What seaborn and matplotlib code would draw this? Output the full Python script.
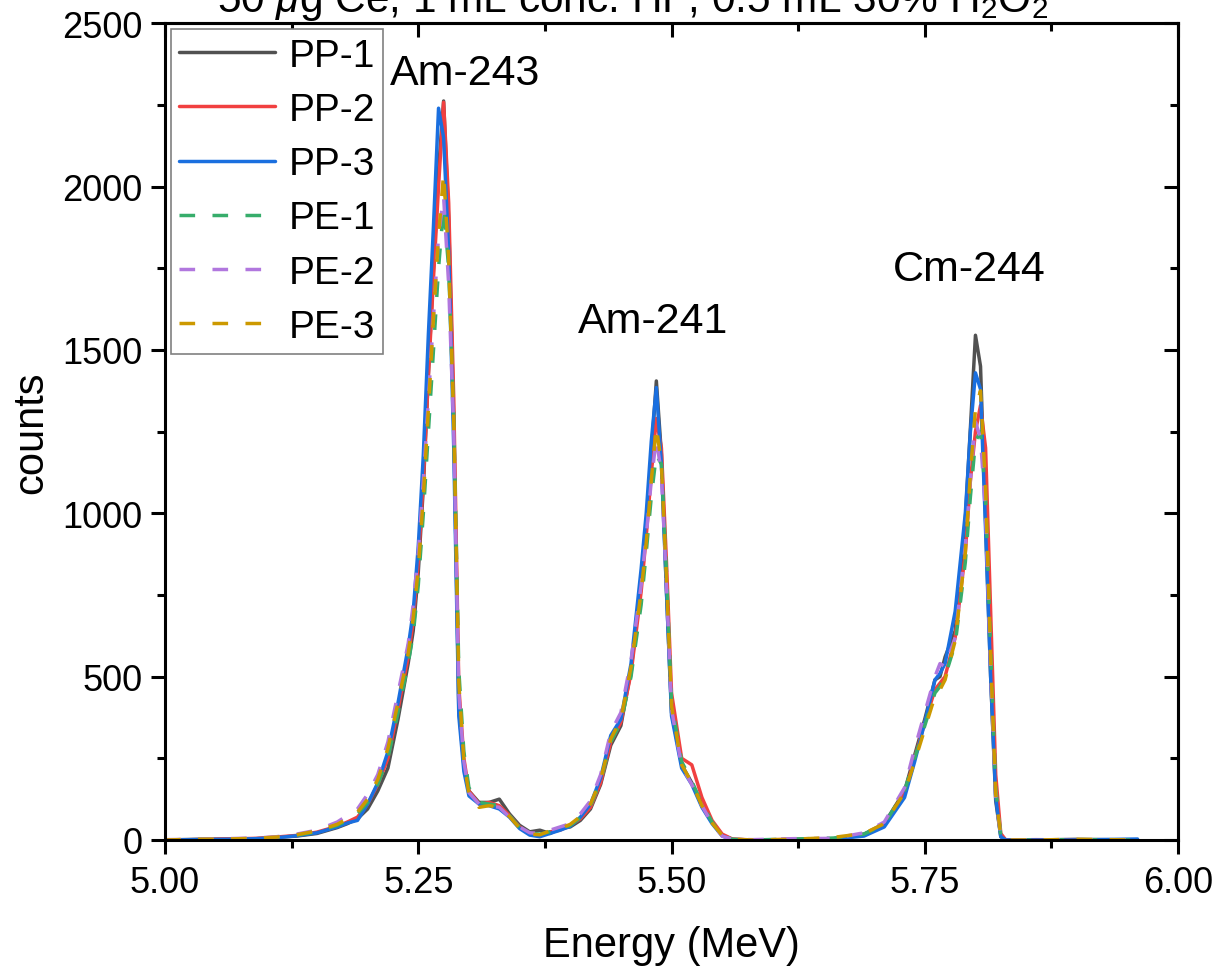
import pandas as pd
import seaborn as sns
import matplotlib.pyplot as plt
from matplotlib.ticker import MultipleLocator

# energy grid (MeV) shared by all spectra
energy = [5.00, 5.03, 5.06, 5.09, 5.11, 5.13, 5.15, 5.17, 5.18, 5.19,
          5.20, 5.21, 5.22, 5.23, 5.24, 5.245, 5.25, 5.255, 5.26, 5.265,
          5.27, 5.275, 5.28, 5.285, 5.29, 5.295, 5.30, 5.31, 5.32, 5.33,
          5.34, 5.35, 5.36, 5.37, 5.38, 5.39, 5.40, 5.41, 5.42, 5.43,
          5.44, 5.45, 5.46, 5.47, 5.475, 5.48, 5.485, 5.49, 5.495, 5.50,
          5.51, 5.52, 5.53, 5.54, 5.55, 5.56, 5.58, 5.62, 5.66, 5.69,
          5.71, 5.73, 5.74, 5.75, 5.76, 5.765, 5.77, 5.78, 5.79, 5.795,
          5.80, 5.805, 5.81, 5.815, 5.82, 5.825, 5.83, 5.86, 5.90, 5.96]

pp1 = [0, 2, 3, 4, 8, 12, 20, 38, 50, 65,
       95, 150, 220, 370, 540, 640, 820, 1080, 1430, 1750,
       2050, 2262, 1900, 1280, 400, 230, 150, 115, 115, 125,
       80, 45, 25, 30, 20, 35, 40, 60, 95, 170,
       290, 350, 520, 790, 950, 1180, 1405, 1180, 760, 390,
       230, 175, 110, 55, 15, 2, 0, 1, 4, 18,
       50, 150, 260, 370, 490, 500, 560, 640, 980, 1260,
       1545, 1450, 980, 500, 120, 10, 0, 0, 2, 0]

pp2 = [0, 1, 3, 5, 9, 14, 24, 42, 55, 70,
       110, 170, 250, 400, 560, 670, 850, 1100, 1420, 1720,
       2000, 2258, 1950, 1350, 470, 250, 150, 110, 115, 105,
       75, 40, 18, 15, 25, 30, 45, 65, 100, 175,
       300, 360, 510, 760, 930, 1120, 1290, 1200, 850, 450,
       250, 230, 130, 60, 18, 3, 0, 2, 3, 15,
       45, 140, 250, 360, 460, 480, 500, 620, 880, 1100,
       1250, 1330, 1200, 700, 200, 20, 0, 1, 0, 0]

pp3 = [0, 1, 2, 4, 7, 13, 22, 40, 52, 60,
       110, 175, 270, 420, 590, 700, 900, 1180, 1550, 1880,
       2240, 2150, 1800, 1200, 380, 210, 135, 110, 105, 95,
       70, 35, 15, 10, 20, 30, 42, 70, 110, 190,
       320, 370, 540, 830, 1000, 1220, 1385, 1150, 760, 380,
       220, 170, 100, 50, 12, 1, 0, 0, 3, 12,
       40, 130, 240, 360, 490, 510, 540, 700, 1000, 1250,
       1430, 1380, 950, 500, 130, 10, 0, 0, 0, 3]

pe1 = [0, 2, 2, 5, 8, 15, 25, 45, 60, 80,
       115, 170, 250, 390, 540, 630, 780, 1000, 1250, 1500,
       1750, 1940, 1750, 1300, 520, 270, 160, 115, 110, 105,
       75, 38, 20, 18, 25, 32, 45, 68, 105, 180,
       300, 360, 500, 720, 880, 1050, 1180, 1150, 820, 420,
       240, 180, 110, 55, 15, 2, 0, 3, 6, 18,
       48, 150, 250, 350, 450, 470, 500, 600, 850, 1050,
       1220, 1250, 1050, 580, 160, 15, 0, 0, 1, 0]

pe2 = [1, 2, 4, 6, 10, 18, 30, 55, 75, 95,
       140, 200, 300, 450, 600, 720, 880, 1100, 1350, 1600,
       1850, 1970, 1700, 1250, 450, 240, 145, 110, 105, 100,
       70, 40, 22, 20, 30, 40, 50, 80, 120, 200,
       330, 390, 550, 780, 930, 1100, 1230, 1120, 780, 400,
       225, 170, 105, 50, 12, 2, 1, 4, 5, 22,
       55, 160, 280, 390, 500, 540, 530, 620, 900, 1100,
       1280, 1230, 1000, 520, 130, 12, 0, 0, 0, 0]

pe3 = [0, 2, 3, 5, 9, 16, 28, 48, 65, 85,
       125, 185, 280, 420, 570, 680, 830, 1050, 1320, 1600,
       1850, 2040, 1780, 1280, 480, 240, 140, 100, 105, 100,
       72, 36, 18, 16, 28, 35, 48, 72, 110, 185,
       310, 370, 530, 760, 910, 1100, 1265, 1150, 800, 410,
       230, 175, 105, 52, 14, 2, 0, 2, 8, 20,
       50, 145, 240, 340, 440, 460, 490, 610, 880, 1120,
       1320, 1375, 1080, 560, 140, 12, 0, 0, 2, 0]

samples = ["PP-1", "PP-2", "PP-3", "PE-1", "PE-2", "PE-3"]
series = [pp1, pp2, pp3, pe1, pe2, pe3]
colors = ["#515151", "#F14040", "#1A6FDF", "#37AD6B", "#B177DE", "#CC9900"]

df = pd.concat(
    [pd.DataFrame({"energy": energy, "counts": s, "sample": name})
     for name, s in zip(samples, series)],
    ignore_index=True)

sns.set_style("ticks")
plt.rcParams["font.family"] = ["Liberation Sans", "DejaVu Sans"]
plt.rcParams["mathtext.fontset"] = "custom"
plt.rcParams["mathtext.rm"] = "Liberation Sans"
plt.rcParams["mathtext.it"] = "Liberation Sans:italic"
plt.rcParams["text.color"] = "black"
plt.rcParams["axes.labelcolor"] = "black"
plt.rcParams["xtick.color"] = "black"
plt.rcParams["ytick.color"] = "black"

fig = plt.figure(figsize=(12.17, 9.70), dpi=100)
ax = fig.add_axes([0.1356, 0.133, 0.8324, 0.842])

dash_map = {n: ("" if n.startswith("PP") else (4.5, 5)) for n in samples}
sns.lineplot(data=df, x="energy", y="counts", hue="sample", style="sample",
             hue_order=samples, style_order=samples,
             palette=dict(zip(samples, colors)), dashes=dash_map,
             estimator=None, sort=False, linewidth=2.5, legend=False, ax=ax)

ax.set_xlim(5.0, 6.0)
ax.set_ylim(0, 2500)
ax.xaxis.set_major_locator(MultipleLocator(0.25))
ax.xaxis.set_minor_locator(MultipleLocator(0.125))
ax.yaxis.set_major_locator(MultipleLocator(500))
ax.yaxis.set_minor_locator(MultipleLocator(250))
ax.xaxis.set_major_formatter(lambda v, p: f"{v:.2f}")
ax.tick_params(which="both", direction="out", width=2.2, colors="black")
ax.tick_params(which="major", length=10)
ax.tick_params(which="minor", length=6)
ax.tick_params(axis="x", labelsize=26, pad=8)
ax.tick_params(axis="y", labelsize=26, pad=6)
for sp in ax.spines.values():
    sp.set_linewidth(2.2)
    sp.set_color("black")

# mirrored ticks on top/right pointing inward, like Origin
top = ax.secondary_xaxis("top")
top.xaxis.set_major_locator(MultipleLocator(0.25))
top.xaxis.set_minor_locator(MultipleLocator(0.125))
top.tick_params(which="both", direction="in", width=2.2, labeltop=False)
top.tick_params(which="major", length=10)
top.tick_params(which="minor", length=6)
top.spines["top"].set_linewidth(2.2)
right = ax.secondary_yaxis("right")
right.yaxis.set_major_locator(MultipleLocator(500))
right.yaxis.set_minor_locator(MultipleLocator(250))
right.tick_params(which="both", direction="in", width=2.2, labelright=False)
right.tick_params(which="major", length=10)
right.tick_params(which="minor", length=6)
right.spines["right"].set_linewidth(2.2)

ax.set_xlabel("Energy (MeV)", fontsize=30)
ax.set_ylabel("counts", fontsize=30)
ax.xaxis.set_label_coords(0.5, -0.104)
ax.yaxis.set_label_coords(-0.112, 0.5)

ax.text(5.222, 2313, "Am-243", fontsize=31, va="baseline")
ax.text(5.408, 1554, "Am-241", fontsize=31, va="baseline")
ax.text(5.718, 1714, "Cm-244", fontsize=31, va="baseline")

fig.text(0.178, 1 - 12 / 970,
         r"50 $\mu$g Ce, 1 mL conc. HF, 0.5 mL 30% H$_2$O$_2$",
         fontsize=30.5, ha="left", va="baseline")

leg = ax.legend(handles=ax.lines[:6], labels=samples, loc="upper left",
                bbox_to_anchor=(0, 1), borderaxespad=0.15, fontsize=28,
                handlelength=2.45, handletextpad=0.35, labelspacing=0.47,
                borderpad=0.22, fancybox=False, framealpha=1)
leg.get_frame().set_edgecolor("#808080")
leg.get_frame().set_linewidth(1.2)

fig.savefig("out.png", dpi=100)
